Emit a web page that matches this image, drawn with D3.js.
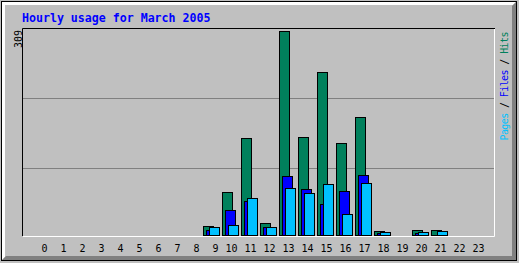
<!DOCTYPE html>
<html>
<head>
<meta charset="utf-8">
<script src="https://cdn.jsdelivr.net/npm/d3@7"></script>
<style>
  html, body { margin: 0; padding: 0; background: #c0c0c0; }
  svg { display: block; }
  text { font-family: "DejaVu Sans Mono", "Liberation Mono", monospace; }
</style>
</head>
<body>
<svg class="chart"></svg>
<script>
const hours = ["0", "1", "2", "3", "4", "5", "6", "7", "8", "9", "10", "11",
    "12", "13", "14", "15", "16", "17", "18", "19", "20", "21", "22", "23"];
const hits  = [0, 0, 0, 0, 0, 0, 0, 0, 0, 14, 65, 147, 18, 309, 148, 247, 139, 179, 6, 0, 8, 8, 0, 0];
const files = [0, 0, 0, 0, 0, 0, 0, 0, 0, 8, 38, 52, 12, 89, 70, 47, 67, 91, 3, 0, 3, 0, 0, 0];
const pages = [0, 0, 0, 0, 0, 0, 0, 0, 0, 12, 15, 56, 12, 71, 64, 77, 32, 79, 5, 0, 5, 6, 0, 0];
const title = "Hourly usage for March 2005";
const legend = [
    {t: "Pages", c: "#00c0ff"},
    {t: " / ", c: "#000"},
    {t: "Files", c: "#0000ff"},
    {t: " / ", c: "#000"},
    {t: "Hits", c: "#00805c"}
];

const width = 519;
const height = 263;

const svg = d3.select(".chart")
    .attr("width", width)
    .attr("height", height);

// frame with 3-D border
svg.append("rect")
    .attr("width", width).attr("height", height)
    .attr("fill", "#c0c0c0");
svg.append("polygon")
    .attr("points", "2,2 516,2 513,5 5,5 5,257 2,260")
    .attr("fill", "#fff");
svg.append("polygon")
    .attr("points", "516,2 516,260 2,260 6,256 512,256 512,6")
    .attr("fill", "#808080");
svg.append("rect")
    .attr("x", 1.5).attr("y", 1.5)
    .attr("width", 515).attr("height", 259)
    .attr("fill", "none").attr("stroke", "#000");

// plot box
const box = {left: 22, top: 28, right: 494, bottom: 236};

const grid = d3.scaleLinear().domain([0, 3]).range([box.bottom + 1, box.top + 1]);
svg.append("g").selectAll("line")
    .data([1, 2])
    .enter().append("line")
    .attr("x1", box.left + 1).attr("x2", box.right)
    .attr("y1", (d) => Math.round(grid(d)) + 0.5)
    .attr("y2", (d) => Math.round(grid(d)) + 0.5)
    .attr("stroke", "#808080");

svg.append("path")
    .attr("d", `M${box.left + 0.5},${box.bottom}V${box.top + 0.5}H${box.right + 1}`)
    .attr("fill", "none").attr("stroke", "#000");
svg.append("path")
    .attr("d", `M${box.left + 1},${box.bottom + 0.5}H${box.right + 0.5}V${box.top + 1}`)
    .attr("fill", "none").attr("stroke", "#fff");

const x = d3.scaleLinear()
    .domain([0, 23])
    .range([32, 32 + 23 * 19]);

const y = d3.scaleLinear()
    .domain([0, d3.max(hits)])
    .range([235, 31]);

const series = [
    {vals: hits, off: 0, color: "#00805c"},
    {vals: files, off: 3, color: "#0000ff"},
    {vals: pages, off: 6, color: "#00c0ff"}
];

const bars = svg.append("g").attr("class", "bars");

series.forEach((s) => {
    bars.append("g")
        .selectAll("rect")
        .data(hours.map((h, i) => ({h: i, v: s.vals[i]})).filter((d) => d.v > 0))
        .enter().append("rect")
        .attr("x", (d) => x(d.h) + s.off + 0.5)
        .attr("y", (d) => Math.round(y(d.v)) + 0.5)
        .attr("width", 10)
        .attr("height", (d) => y(0) - Math.round(y(d.v)))
        .attr("fill", s.color)
        .attr("stroke", "#000");
});

// hour labels
svg.append("g").selectAll("text")
    .data(hours)
    .enter().append("text")
    .attr("x", (d, i) => x(i) + 12.5 - 3 * (d.length - 1))
    .attr("y", 252)
    .attr("text-anchor", "middle")
    .attr("font-size", "10px")
    .attr("fill", "#000")
    .text((d) => d);

// title
svg.append("text")
    .attr("x", 22)
    .attr("y", 22)
    .attr("font-size", "11.6px")
    .attr("font-weight", "bold")
    .attr("fill", "#0000ff")
    .text(title);

// max value
svg.append("text")
    .attr("transform", "translate(21.5,48) rotate(-90)")
    .attr("font-size", "10px")
    .attr("fill", "#000")
    .text(d3.max(hits));

// legend
const leg = svg.append("text")
    .attr("transform", "translate(507.5,140.5) rotate(-90)")
    .attr("font-size", "10px")
    .attr("textLength", 109)
    .attr("lengthAdjust", "spacing");
leg.selectAll("tspan")
    .data(legend)
    .enter().append("tspan")
    .attr("fill", (d) => d.c)
    .attr("xml:space", "preserve")
    .text((d) => d.t);
</script>
</body>
</html>
